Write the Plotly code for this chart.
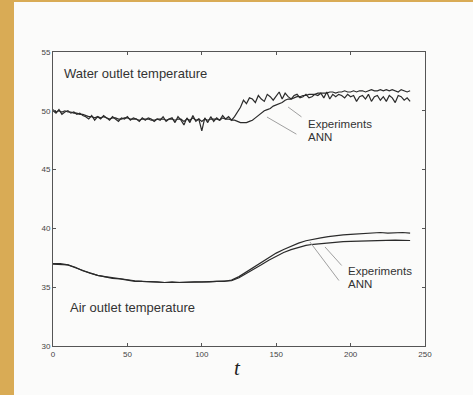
import plotly.graph_objects as go

# ---- data ----
t_water = list(range(0, 241, 2))
water_exp = [
    50.0,
    49.8, 50.1, 49.7, 49.9, 50.0, 49.8, 49.9, 49.7, 49.8, 49.6,
    49.5, 49.3, 49.6, 49.2, 49.5, 49.3, 49.6, 49.4, 49.2, 49.5,
    49.3, 49.1, 49.4, 49.3, 49.5, 49.2, 49.4, 49.3, 49.1, 49.4,
    49.2, 49.4, 49.3, 49.1, 49.3, 49.2, 49.5, 49.1, 49.3, 49.4,
    49.0, 49.5, 49.2, 48.8, 49.4, 49.0, 49.6, 49.1, 49.3, 48.3,
    49.4, 49.0, 49.5, 49.1, 49.4, 49.2, 49.6, 49.3, 49.5, 49.2,
    49.5, 49.9, 50.3, 50.9, 50.6, 51.1, 51.0, 50.7, 51.3, 51.0,
    50.8, 51.4, 51.2, 50.9, 51.3, 51.6, 51.0, 51.5, 51.2, 51.0,
    51.3, 51.4, 51.1, 51.2, 51.4, 51.1, 51.2, 51.4, 51.3, 51.5,
    51.1, 51.6, 51.0, 51.4, 51.2, 51.4, 51.3, 51.1, 51.4, 51.2,
    51.3, 50.8, 51.2, 51.3, 51.0, 51.4, 50.8, 51.2, 51.3, 50.9,
    51.2, 50.8, 51.3, 51.1, 50.7, 51.3, 51.2, 50.9, 51.1, 50.8,
]
water_ann = [
    50.1,
    49.9, 50.0, 49.9, 50.0, 49.9, 49.9, 49.8, 49.8, 49.7, 49.7,
    49.6, 49.5, 49.5, 49.4, 49.5, 49.4, 49.5, 49.4, 49.3, 49.4,
    49.4, 49.3, 49.3, 49.4, 49.4, 49.3, 49.3, 49.3, 49.2, 49.3,
    49.3, 49.3, 49.2, 49.2, 49.3, 49.3, 49.3, 49.2, 49.3, 49.3,
    49.2, 49.3, 49.3, 49.1, 49.3, 49.2, 49.4, 49.2, 49.3, 49.1,
    49.3, 49.2, 49.3, 49.3, 49.3, 49.2, 49.4, 49.3, 49.3, 49.2,
    49.2, 49.1, 49.0, 49.0, 49.0, 49.1, 49.2, 49.4, 49.6, 49.8,
    50.0, 50.1, 50.2, 50.4, 50.5, 50.6, 50.7, 50.9, 51.0, 51.0,
    51.1, 51.2, 51.2, 51.3, 51.3, 51.4, 51.4, 51.4, 51.5, 51.5,
    51.5, 51.5, 51.6, 51.6, 51.5, 51.6, 51.6, 51.7, 51.6, 51.6,
    51.7, 51.6, 51.7, 51.7, 51.6, 51.7, 51.8, 51.7, 51.7, 51.8,
    51.7, 51.8, 51.7, 51.8, 51.7, 51.6, 51.8, 51.7, 51.6, 51.7,
]

t_air = list(range(0, 241, 5))
air_ann = [
    37.0, 37.0, 36.9, 36.7, 36.4, 36.2, 36.0, 35.9, 35.8, 35.7,
    35.6, 35.55, 35.5, 35.5, 35.45, 35.4, 35.45, 35.4, 35.45, 35.45,
    35.45, 35.5, 35.5, 35.5, 35.6, 35.9, 36.3, 36.7, 37.1, 37.5,
    37.9, 38.2, 38.5, 38.75, 38.95, 39.1, 39.2, 39.3, 39.4, 39.45,
    39.5, 39.55, 39.6, 39.6, 39.65, 39.6, 39.65, 39.65, 39.6,
]
air_exp = [
    36.95, 36.95, 36.9, 36.65, 36.4, 36.2, 36.0, 35.85, 35.75, 35.7,
    35.6, 35.5, 35.5, 35.45, 35.4, 35.4, 35.4, 35.4, 35.4, 35.45,
    35.45, 35.45, 35.5, 35.5, 35.55, 35.8, 36.15, 36.5, 36.9, 37.3,
    37.65, 37.95, 38.2, 38.4, 38.55, 38.65, 38.72, 38.78, 38.83, 38.87,
    38.9, 38.92, 38.95, 38.95, 38.97, 38.97, 39.0, 38.98, 38.97,
]

x_ticks = [0, 50, 100, 150, 200, 250]
y_ticks = [30, 35, 40, 45, 50, 55]

LINE = "#2b2b2b"
LEAD = "#a0a0a0"

fig = go.Figure()
for x, y in [(t_water, water_exp), (t_water, water_ann), (t_air, air_exp), (t_air, air_ann)]:
    fig.add_trace(go.Scatter(x=x, y=y, mode="lines",
                             line=dict(color=LINE, width=1.2), showlegend=False))

annotations = []
# leader lines
for (x, y, ax, ay) in [(158, 50.32, 168, 49.39), (143.8, 49.47, 164.6, 47.94),
                       (182.8, 38.42, 194.9, 36.72), (172.7, 38.84, 192.9, 35.44)]:
    annotations.append(dict(x=x, y=y, ax=ax, ay=ay, xref="x", yref="y",
                            axref="x", ayref="y", text="", showarrow=True,
                            arrowhead=0, arrowwidth=1, arrowcolor=LEAD))

txtfont = dict(family="Liberation Sans, Arial, sans-serif", size=13, color="#333")
smallfont = dict(family="Liberation Sans, Arial, sans-serif", size=11.5, color="#333")
annotations += [
    dict(x=6, y=53.2, text="Water outlet temperature", xanchor="left", yanchor="middle",
         showarrow=False, font=txtfont),
    dict(x=10, y=33.3, text="Air outlet temperature", xanchor="left", yanchor="middle",
         showarrow=False, font=txtfont),
    dict(x=170, y=48.88, text="Experiments", xanchor="left", yanchor="middle",
         showarrow=False, font=smallfont),
    dict(x=170, y=47.77, text="ANN", xanchor="left", yanchor="middle",
         showarrow=False, font=smallfont),
    dict(x=197, y=36.38, text="Experiments", xanchor="left", yanchor="middle",
         showarrow=False, font=smallfont),
    dict(x=197, y=35.27, text="ANN", xanchor="left", yanchor="middle",
         showarrow=False, font=smallfont),
    dict(x=0.495, y=-0.075, xref="paper", yref="paper", text="<i>t</i>",
         showarrow=False, xanchor="center", yanchor="middle",
         font=dict(family="Liberation Serif, Times New Roman, serif", size=21, color="#222")),
]

GOLD = "#d9ab55"
shapes = [
    dict(type="rect", xref="paper", yref="paper", x0=-53/372, x1=-39/372,
         y0=-49/294, y1=1+52/294, fillcolor=GOLD, line=dict(width=0), layer="below"),
    dict(type="rect", xref="paper", yref="paper", x0=-53/372, x1=1+48/372,
         y0=1+50/294, y1=1+52/294, fillcolor=GOLD, line=dict(width=0), layer="below"),
]

axis_common = dict(showgrid=False, zeroline=False, showline=True, linecolor="#555",
                   linewidth=1, mirror="ticks", ticks="inside", ticklen=3,
                   tickcolor="#555", tickfont=dict(family="Liberation Sans, Arial", size=8, color="#444"))

fig.update_layout(
    width=473, height=395,
    margin=dict(l=53, r=48, t=52, b=49),
    paper_bgcolor="#fbfbfa", plot_bgcolor="#fbfbfa",
    xaxis=dict(range=[0, 250], tickvals=x_ticks, ticktext=[str(v) for v in x_ticks], **axis_common),
    yaxis=dict(range=[30, 55], tickvals=y_ticks, ticktext=[str(v) for v in y_ticks], **axis_common),
    annotations=annotations, shapes=shapes,
)

fig.write_html("out.html")
